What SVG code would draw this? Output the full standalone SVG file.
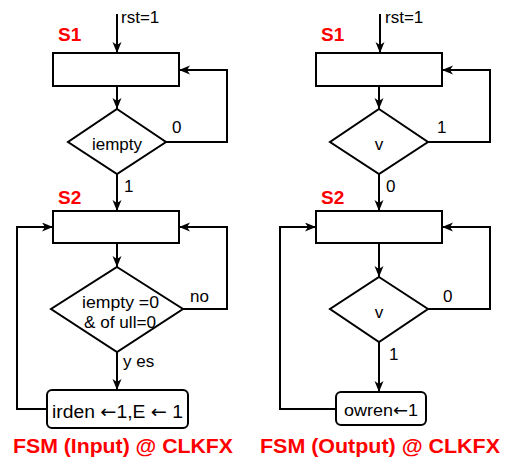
<svg xmlns="http://www.w3.org/2000/svg" width="507" height="459" viewBox="0 0 507 459">
<defs>
<marker id="ah" markerUnits="userSpaceOnUse" markerWidth="12" markerHeight="10" refX="11" refY="4.5" orient="auto">
<path d="M0,0 L11,4.5 L0,9 L3,4.5 z" fill="#000"/>
</marker>
<style>
.ln{fill:none;stroke:#000;stroke-width:2}
.arr{fill:none;stroke:#000;stroke-width:2;marker-end:url(#ah)}
.nd{fill:#fff;stroke:#000;stroke-width:2}
.t{font-family:"Liberation Sans",Arial,sans-serif;font-size:17px;fill:#000}
.a{font-family:"DejaVu Sans",sans-serif}
.st{font-family:"Liberation Sans",Arial,sans-serif;font-size:19px;font-weight:bold;fill:#ff0000}
.ti{font-family:"Liberation Sans",Arial,sans-serif;font-size:20px;font-weight:bold;fill:#ff0000}
</style>
</defs>
<rect width="507" height="459" fill="#fff"/>
<g id="connectors">
<path class="arr" d="M117,14 V53"/>
<path class="arr" d="M117,86 V109"/>
<path class="arr" d="M166,142 H227 V70 H179"/>
<path class="arr" d="M117,174 V211"/>
<path class="arr" d="M117,243 V267"/>
<path class="arr" d="M183,309 H227 V227 H179"/>
<path class="arr" d="M117,352 V390"/>
<path class="arr" d="M47,409 H17 V227 H53"/>
<path class="arr" d="M380,14 V53"/>
<path class="arr" d="M379,86 V109"/>
<path class="arr" d="M428,142 H490 V70 H442"/>
<path class="arr" d="M379,174 V211"/>
<path class="arr" d="M379,243 V277"/>
<path class="arr" d="M428,309 H490 V227 H442"/>
<path class="arr" d="M379,342 V392"/>
<path class="arr" d="M336,409 H280 V227 H316"/>
</g>
<g id="in_labels">
<text class="t" x="121" y="23">rst=1</text>
<text class="t" x="172" y="133">0</text>
<text class="t" x="124" y="192">1</text>
<text class="t" x="190" y="302">no</text>
<text class="t" x="123" y="367">y es</text>
</g>
<g id="in_s1">
<text class="st" x="58" y="41">S1</text>
<rect class="nd" x="53" y="53" width="126" height="33"/>
</g>
<g id="in_d1">
<polygon class="nd" points="117,109 166,142 117,174 68,142"/>
<text class="t" x="117" y="150" text-anchor="middle">iempty</text>
</g>
<g id="in_s2">
<text class="st" x="58" y="204">S2</text>
<rect class="nd" x="53" y="211" width="126" height="32"/>
</g>
<g id="in_d2">
<polygon class="nd" points="117,267 183,309 117,352 51,309"/>
<text class="t" x="82" y="308" textLength="77" lengthAdjust="spacingAndGlyphs">iempty =0</text>
<text class="t" x="84" y="328" textLength="72" lengthAdjust="spacingAndGlyphs">&amp; of ull=0</text>
</g>
<g id="in_act">
<rect class="nd" x="47" y="390" width="141" height="38" rx="5"/>
<text class="t" x="52" y="418" style="font-size:18px" textLength="131" lengthAdjust="spacingAndGlyphs">irden <tspan class="a">←</tspan>1,E <tspan class="a">←</tspan> 1</text>
</g>
<text class="ti" x="13" y="453" textLength="220" lengthAdjust="spacingAndGlyphs">FSM (Input) @ CLKFX</text>
<g id="out_labels">
<text class="t" x="385" y="23">rst=1</text>
<text class="t" x="437" y="133">1</text>
<text class="t" x="386" y="192">0</text>
<text class="t" x="443" y="302">0</text>
<text class="t" x="389" y="360">1</text>
</g>
<g id="out_s1">
<text class="st" x="321" y="41">S1</text>
<rect class="nd" x="316" y="53" width="126" height="33"/>
</g>
<g id="out_d1">
<polygon class="nd" points="379,109 428,142 379,174 330,142"/>
<text class="t" x="379" y="150" text-anchor="middle">v</text>
</g>
<g id="out_s2">
<text class="st" x="321" y="204">S2</text>
<rect class="nd" x="316" y="211" width="126" height="32"/>
</g>
<g id="out_d2">
<polygon class="nd" points="379,277 428,309 379,342 330,309"/>
<text class="t" x="379" y="318" text-anchor="middle">v</text>
</g>
<g id="out_act">
<rect class="nd" x="336" y="392" width="90" height="33" rx="5"/>
<text class="t" x="344" y="416" textLength="74" lengthAdjust="spacingAndGlyphs">owren<tspan class="a">←</tspan>1</text>
</g>
<text class="ti" x="260" y="453" textLength="240" lengthAdjust="spacingAndGlyphs">FSM (Output) @ CLKFX</text>
</svg>
